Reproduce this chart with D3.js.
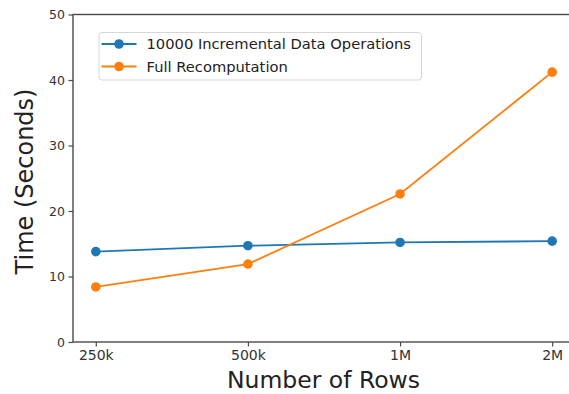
<!DOCTYPE html>
<html>
<head>
<meta charset="utf-8">
<script src="https://cdn.jsdelivr.net/npm/d3@7"></script>
<style>
  html, body { margin: 0; padding: 0; background: #fff; }
  svg { display: block; }
</style>
</head>
<body>
<svg id="chart" width="569" height="394"></svg>
<script>
const categories = ["250k", "500k", "1M", "2M"];
const incrementalValues = [13.8, 14.7, 15.2, 15.4];
const fullRecomputationValues = [8.4, 11.9, 22.6, 41.2];
const yTicks = [0, 10, 20, 30, 40, 50];
const seriesNames = ["10000 Incremental Data Operations", "Full Recomputation"];
const seriesColors = ["#1f77b4", "#ff7f0e"];

const series = [
  { name: seriesNames[0], values: incrementalValues, color: seriesColors[0] },
  { name: seriesNames[1], values: fullRecomputationValues, color: seriesColors[1] }
];

const plotLeft = 73, plotRight = 575, plotTop = 14.5, plotBottom = 342;
const svg = d3.select("#chart");
const font = "DejaVu Sans, sans-serif";
const spineColor = "#4a4a4a";

const x = d3.scalePoint().domain(categories).range([plotLeft, plotRight]).padding(0.15);
const y = d3.scaleLinear().domain([0, 50]).range([plotBottom, plotTop]);

// Axes
const yAxis = svg.append("g")
  .attr("transform", `translate(${plotLeft},0)`)
  .call(d3.axisLeft(y).tickValues(yTicks).tickSize(4.5).tickPadding(3.5));
yAxis.select(".domain").remove();
yAxis.selectAll(".tick line").attr("stroke", spineColor).attr("stroke-width", 1.2);
yAxis.selectAll(".tick text").attr("font-family", font).attr("font-size", 12.5).attr("fill", "#333");

const xAxis = svg.append("g")
  .attr("transform", `translate(0,${plotBottom})`)
  .call(d3.axisBottom(x).tickSize(4.5).tickPadding(3.5));
xAxis.select(".domain").remove();
xAxis.selectAll(".tick line").attr("stroke", spineColor).attr("stroke-width", 1.2);
xAxis.selectAll(".tick text").attr("font-family", font).attr("font-size", 14).attr("fill", "#333");

// Spines
svg.append("rect")
  .attr("x", plotLeft).attr("y", plotTop)
  .attr("width", plotRight - plotLeft).attr("height", plotBottom - plotTop)
  .attr("fill", "none").attr("stroke", spineColor).attr("stroke-width", 1.4);

// Lines
const line = d3.line()
  .x((d, i) => x(categories[i]))
  .y(d => y(d));

series.forEach(s => {
  svg.append("path")
    .datum(s.values)
    .attr("d", line)
    .attr("fill", "none")
    .attr("stroke", s.color)
    .attr("stroke-width", 1.8);
  svg.selectAll(null)
    .data(s.values)
    .enter().append("circle")
    .attr("cx", (d, i) => x(categories[i]))
    .attr("cy", d => y(d))
    .attr("r", 4.8)
    .attr("fill", s.color);
});

// Axis labels
svg.append("text")
  .attr("x", 323.5)
  .attr("y", 388)
  .attr("text-anchor", "middle")
  .attr("font-family", font)
  .attr("font-size", 23.5)
  .attr("fill", "#222")
  .text("Number of Rows");

svg.append("text")
  .attr("transform", `translate(33,181.5) rotate(-90)`)
  .attr("text-anchor", "middle")
  .attr("font-family", font)
  .attr("font-size", 24)
  .attr("fill", "#222")
  .text("Time (Seconds)");

// Legend
const legend = svg.append("g");
legend.append("rect")
  .attr("x", 99).attr("y", 32.5)
  .attr("width", 322.5).attr("height", 47.5)
  .attr("rx", 3).attr("ry", 3)
  .attr("fill", "#fff").attr("fill-opacity", 0.8)
  .attr("stroke", "#d6d6d6").attr("stroke-width", 1);

series.forEach((s, i) => {
  const cy = 44 + i * 22.5;
  legend.append("line")
    .attr("x1", 101.5).attr("x2", 136.5)
    .attr("y1", cy).attr("y2", cy)
    .attr("stroke", s.color).attr("stroke-width", 1.8);
  legend.append("circle")
    .attr("cx", 119).attr("cy", cy).attr("r", 4.8)
    .attr("fill", s.color);
  legend.append("text")
    .attr("x", 146.5).attr("y", cy + 5.2)
    .attr("font-family", font)
    .attr("font-size", 14.7)
    .attr("fill", "#222")
    .text(s.name);
});
</script>
</body>
</html>
